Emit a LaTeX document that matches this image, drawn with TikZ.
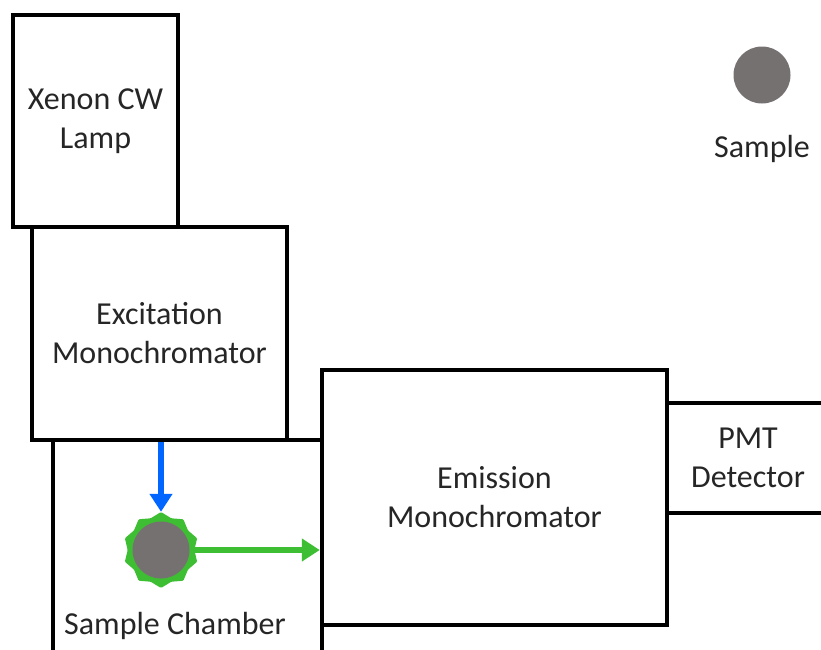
\documentclass[tikz,border=0pt]{standalone}
\usepackage{fontspec}
\setmainfont{Carlito}
\usepackage{xcolor}
\usetikzlibrary{shapes.geometric,arrows.meta,positioning}

\definecolor{rayblue}{RGB}{0,102,255}
\definecolor{raygreen}{RGB}{62,190,50}
\definecolor{samplegray}{RGB}{118,113,113}
\definecolor{inkgray}{RGB}{38,38,38}

\begin{document}
\begin{tikzpicture}[
    x=1pt, y=-1pt,
    block/.style={rectangle, draw, line width=4.5pt, fill=white, inner sep=0pt, align=center, text=inkgray, font=\fontsize{32}{39}\selectfont},
    caption/.style={align=center, text=inkgray, font=\fontsize{32}{39}\selectfont},
    dot/.style={circle, fill=samplegray, inner sep=0pt, minimum size=57pt},
    ray/.style={line width=6pt, -{Triangle[length=18pt, width=22pt]}}
]
    \clip (0,0) rectangle (821,649);

    % Boxes
    \node[block, minimum width=269pt, minimum height=260pt] (chamber) at (187.5,570) {};
    \node[block, minimum width=165pt, minimum height=212pt] (lamp) at (95.5,121) {Xenon CW\\Lamp};
    \node[block, minimum width=255pt, minimum height=213pt] (excit) at (159.5,333.5) {Excitation\\Monochromator};
    \node[block, minimum width=162pt, minimum height=110pt] (pmt) at (748,458) {PMT\\Detector};
    \node[block, minimum width=345pt, minimum height=255pt] (emiss) at (494.5,497.5) {Emission\\Monochromator};
    \node[caption] (chamberlbl) at (175,626) {Sample Chamber};

    % Samples
    \node[dot] (sample) at (762,75) {};
    \node[caption, below=28pt of sample] (samplelbl) {Sample};
    \node[star, star points=10, star point ratio=1.14, minimum size=76pt, inner sep=0pt, fill=raygreen, rounded corners=1pt] (glow) at (161,550) {};
    \node[dot] (cell) at (glow.center) {};

    % Arrows
    \draw[ray, rayblue] (glow |- excit.south) -- (glow.north);
    \draw[ray, raygreen] (cell.east) -- (emiss.west |- cell);
\end{tikzpicture}
\end{document}
